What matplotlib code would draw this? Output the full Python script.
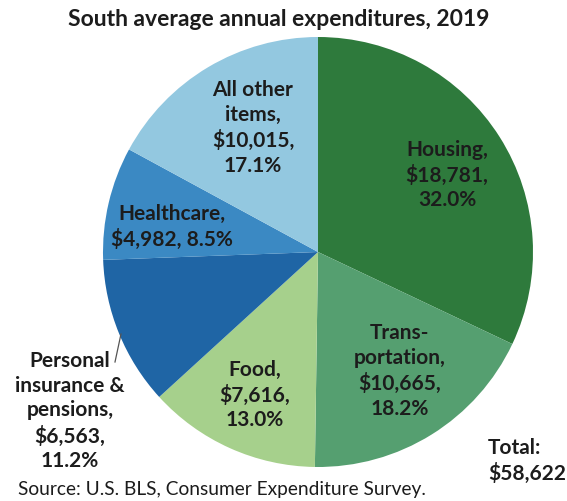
import matplotlib.pyplot as plt

# South region, average annual expenditures (2019, U.S. BLS CE Survey)
categories = ["Housing", "Transportation", "Food",
              "Personal insurance & pensions", "Healthcare", "All other items"]
shown_names = ["Housing,", "Trans-\nportation,", "Food,",
               "Personal\ninsurance &\npensions,", "Healthcare,", "All other\nitems,"]
value_breaks = [",\n", ",\n", ",\n", ",\n", ", ", ",\n"]
spending = [18781, 10665, 7616, 6563, 4982, 10015]
colors = ["#2e7a3c", "#559f70", "#a6d08c", "#1f65a5", "#3b89c3", "#93c8e0"]

W, H = 567, 502
fig = plt.figure(figsize=(W / 100, H / 100), dpi=100)
ax = fig.add_axes([0, 0, 1, 1])

plt.rcParams["font.family"] = ["Lato", "DejaVu Sans"]
ink = "#1c1c1c"

total = sum(spending)
ax.pie(spending, colors=colors, startangle=90, counterclock=False,
       center=(318, H - 253), radius=215, frame=True)
ax.set_xlim(0, W)
ax.set_ylim(0, H)
ax.set_aspect("equal")
ax.axis("off")

# label centres in pixel space (x, y from top)
label_pos = [(447, 175), (400, 371), (255, 395), (70, 411), (172, 227), (253, 128)]
for name, brk, val, (px, py) in zip(shown_names, value_breaks, spending, label_pos):
    txt = f"{name}\n${val:,}{brk}{val / total * 100:.1f}%"
    ax.text(px, H - py, txt, ha="center", va="center", fontsize=15,
            fontweight="bold", color=ink, linespacing=1.3)

# leader line for the personal insurance slice
ax.plot([121, 115], [H - 335, H - 363], color="#555555", lw=0.9)

ax.text(279, H - 20, "South average annual expenditures, 2019", ha="center",
        va="center", fontsize=16.5, fontweight="bold", color=ink)
ax.text(488, H - 461, f"Total:\n${total:,}", ha="left", va="center",
        fontsize=15, fontweight="bold", color=ink, linespacing=1.3)
ax.text(18, H - 490, "Source: U.S. BLS, Consumer Expenditure Survey.",
        ha="left", va="center", fontsize=13.8, color=ink)

fig.savefig("out.png", dpi=100)
